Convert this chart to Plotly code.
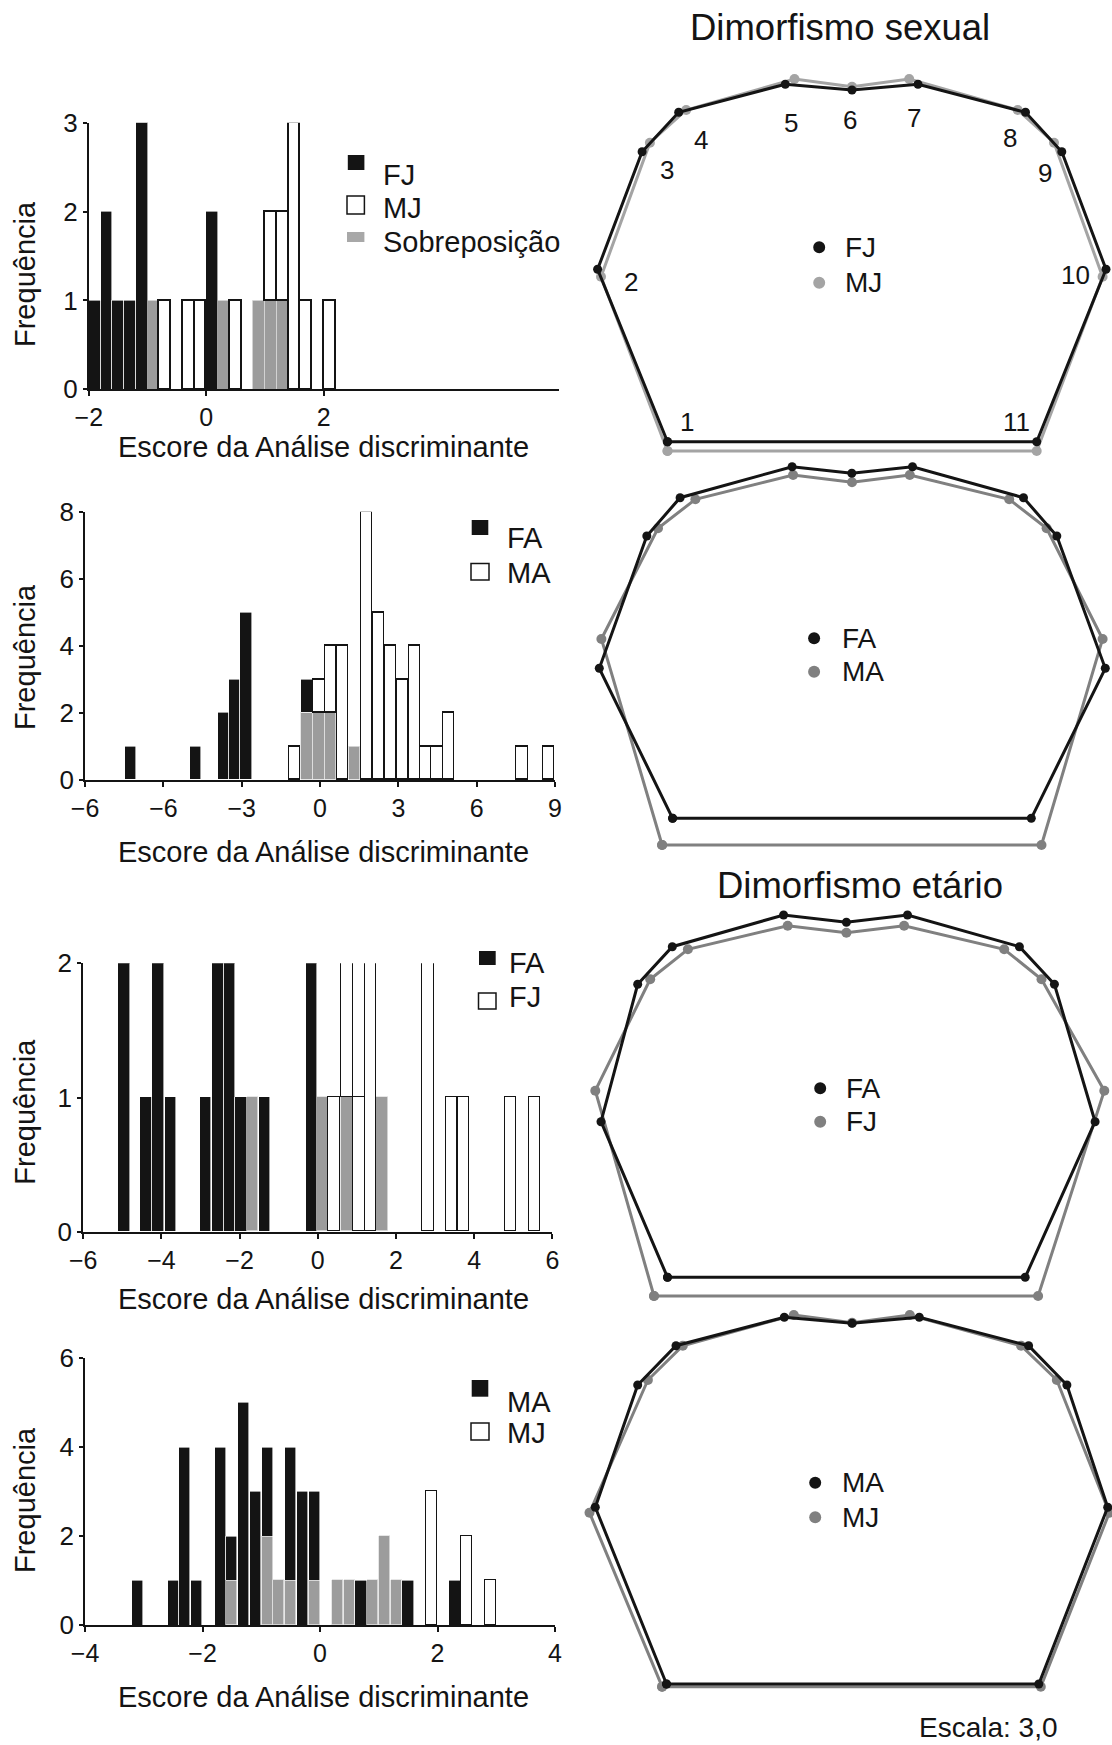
import plotly.graph_objects as go

W, H = 1112, 1745
FONT = "Liberation Sans, Arial, sans-serif"
BLACK = "#141414"
GRAY_BAR = "#9c9c9c"

# ---------------- Histogram data (discriminant scores / frequencies) ----------------
# Panel A : FJ x MJ
A_centers = [-1.9, -1.7, -1.5, -1.3, -1.1, -0.9, -0.7, -0.3, -0.1, 0.1, 0.3, 0.5, 0.9, 1.1, 1.3, 1.5, 1.7, 2.1]
A_overlap = [0, 0, 0, 0, 0, 1, 0, 0, 0, 0, 1, 0, 1, 1, 1, 0, 0, 0]
A_fj      = [1, 2, 1, 1, 3, 0, 0, 0, 0, 2, 0, 0, 0, 0, 0, 0, 0, 0]
A_mj      = [0, 0, 0, 0, 0, 0, 1, 1, 1, 0, 0, 1, 0, 1, 1, 3, 1, 1]
A_ticks = [-2, 0, 2]
A_ticktext = ["−2", "0", "2"]

# Panel B : FA x MA
B_centers = [-7.26, -4.76, -3.70, -3.27, -2.83, -0.98, -0.50, -0.03, 0.41, 0.87, 1.32, 1.79, 2.24,
             2.71, 3.16, 3.63, 4.07, 4.49, 4.93, 7.74, 8.76]
B_overlap = [0, 0, 0, 0, 0, 0, 2, 2, 2, 0, 1, 0, 0, 0, 0, 0, 0, 0, 0, 0, 0]
B_fa      = [1, 1, 2, 3, 5, 0, 1, 0, 0, 0, 0, 0, 0, 0, 0, 0, 0, 0, 0, 0, 0]
B_ma      = [0, 0, 0, 0, 0, 1, 0, 1, 2, 4, 0, 8, 5, 4, 3, 4, 1, 1, 2, 1, 1]
B_ticks = [-9, -6, -3, 0, 3, 6, 9]
B_ticktext = ["−6", "−6", "−3", "0", "3", "6", "9"]

# Panel C : FA x FJ
C_centers = [-4.95, -4.39, -4.08, -3.77, -2.87, -2.55, -2.25, -1.96, -1.67, -1.35, -0.16, 0.14,
             0.42, 0.75, 1.06, 1.36, 1.65, 2.82, 3.42, 3.73, 4.94, 5.55]
C_overlap = [0, 0, 0, 0, 0, 0, 0, 0, 1, 0, 0, 1, 0, 1, 0, 0, 1, 0, 0, 0, 0, 0]
C_fa      = [2, 1, 2, 1, 1, 2, 2, 1, 0, 1, 2, 0, 0, 0, 0, 0, 0, 0, 0, 0, 0, 0]
C_fj      = [0, 0, 0, 0, 0, 0, 0, 0, 0, 0, 0, 0, 1, 1, 1, 2, 0, 2, 1, 1, 1, 1]
C_ticks = [-6, -4, -2, 0, 2, 4, 6]
C_ticktext = ["−6", "−4", "−2", "0", "2", "4", "6"]

# Panel D : MA x MJ
D_centers = [-3.1, -2.5, -2.3, -2.1, -1.7, -1.5, -1.3, -1.1, -0.9, -0.7, -0.5, -0.3, -0.1, 0.3, 0.5,
             0.7, 0.9, 1.1, 1.3, 1.5, 1.9, 2.3, 2.5, 2.9]
D_overlap = [0, 0, 0, 0, 0, 1, 0, 0, 2, 1, 1, 0, 1, 1, 1, 0, 1, 2, 1, 0, 0, 0, 0, 0]
D_ma      = [1, 1, 4, 1, 4, 1, 5, 3, 2, 0, 3, 3, 2, 0, 0, 1, 0, 0, 0, 1, 0, 1, 0, 0]
D_mj      = [0, 0, 0, 0, 0, 0, 0, 0, 0, 0, 0, 0, 0, 0, 0, 0, 0, 0, 0, 0, 3, 0, 2, 1]
D_ticks = [-4, -2, 0, 2, 4]
D_ticktext = ["−4", "−2", "0", "2", "4"]

# ---------------- Landmark configurations (11 landmarks, local units) ----------------
FJ_sex_x = [-184.5, -254.4, -209.9, -173.3, -66.7, 0.0, 66.0, 173.5, 209.8, 254.0, 184.7]
FJ_sex_y = [0.0, 172.4, 290.0, 329.4, 357.4, 351.7, 357.4, 329.4, 290.0, 172.4, 0.0]
MJ_sex_x = [-184.5, -251.0, -202.1, -165.8, -57.5, 0.0, 57.2, 165.7, 202.0, 250.6, 184.7]
MJ_sex_y = [-9.3, 165.0, 299.0, 331.7, 362.7, 355.0, 362.7, 331.7, 299.0, 165.0, -9.3]

FA_sex_x = [-179.4, -252.7, -205.2, -171.9, -59.9, -0.2, 60.5, 171.5, 204.8, 253.3, 179.3]
FA_sex_y = [0.0, 150.0, 282.3, 320.6, 351.6, 345.0, 351.6, 320.6, 282.3, 150.0, 0.0]
MA_sex_x = [-189.9, -250.6, -194.0, -156.6, -58.9, 0.0, 57.8, 157.2, 194.6, 250.6, 189.5]
MA_sex_y = [-26.7, 179.3, 290.0, 319.0, 343.3, 336.0, 343.3, 319.0, 290.0, 179.3, -26.7]

FA_age_x = [-184.5, -251.0, -214.3, -179.7, -68.4, -5.6, 55.5, 167.4, 202.4, 243.1, 173.2]
FA_age_y = [0.0, 155.6, 293.0, 330.6, 362.3, 355.0, 362.3, 330.6, 293.0, 155.6, 0.0]
FJ_age_x = [-198.0, -256.7, -201.8, -164.1, -64.3, -5.6, 52.1, 152.2, 189.5, 252.3, 186.1]
FJ_age_y = [-18.7, 186.6, 298.0, 328.0, 351.6, 344.6, 351.6, 328.0, 298.0, 186.6, -18.7]

MA_age_x = [-185.5, -256.7, -214.3, -176.0, -67.7, 0.1, 67.3, 176.6, 214.9, 255.7, 186.8]
MA_age_y = [0.0, 176.7, 299.0, 338.3, 366.7, 360.7, 366.7, 338.3, 299.0, 176.7, 0.0]
MJ_age_x = [-189.9, -262.5, -204.1, -169.2, -58.2, 0.1, 57.8, 169.1, 204.8, 257.3, 188.8]
MJ_age_y = [-2.7, 171.3, 304.0, 338.3, 369.0, 361.3, 369.0, 338.3, 304.0, 171.3, -2.7]

landmark_labels = ["1", "2", "3", "4", "5", "6", "7", "8", "9", "10", "11"]

# ---------------- helpers ----------------
def xdom(l, r):
    return [l / W, r / W]

def ydom(top, bot):
    return [1 - bot / H, 1 - top / H]

def px(x):
    return x / W

def py(y):
    return 1 - y / H

def nz(v):
    return [None if c == 0 else c for c in v]

fig = go.Figure()
annotations = []
shapes = []

TXT = 29
TICK = 25

hist_panels = [
    dict(c=A_centers, ov=A_overlap, a=A_fj, b=A_mj, w=0.2, xr=[-2, 6], yr=[0, 3],
         xd=(88.8, 558.6), yd=(122.7, 389.3), xt=A_ticks, xtt=A_ticktext, yt=[0, 1, 2, 3],
         ytitle=274, xtitle=447,
         leg=[("black", "FJ", (347.8, 364.4, 155, 170), 175),
              ("white", "MJ", (347.0, 364.4, 196, 214), 208),
              ("gray", "Sobreposição", (347.0, 364.4, 232, 242), 241.7)], legx=381),
    dict(c=B_centers, ov=B_overlap, a=B_fa, b=B_ma, w=0.44, xr=[-9, 9], yr=[0, 8],
         xd=(85.1, 555.0), yd=(511.7, 780.0), xt=B_ticks, xtt=B_ticktext,
         yt=[0, 2, 4, 6, 8], ytitle=657, xtitle=851.7,
         leg=[("black", "FA", (471.7, 488.3, 520, 535), 538),
              ("white", "MA", (471.0, 489.0, 563.5, 580), 572.7)], legx=505),
    dict(c=C_centers, ov=C_overlap, a=C_fa, b=C_fj, w=0.29, xr=[-6, 6], yr=[0, 2],
         xd=(83.2, 552.4), yd=(963.3, 1231.7), xt=C_ticks, xtt=C_ticktext,
         yt=[0, 1, 2], ytitle=1111.7, xtitle=1298.5,
         leg=[("black", "FA", (479.0, 495.7, 951, 965), 963.3),
              ("white", "FJ", (478.5, 496.0, 993, 1009), 996.7)], legx=506.8),
    dict(c=D_centers, ov=D_overlap, a=D_ma, b=D_mj, w=0.19, xr=[-4, 4], yr=[0, 6],
         xd=(85.1, 555.0), yd=(1358.3, 1625.0), xt=D_ticks, xtt=D_ticktext,
         yt=[0, 2, 4, 6], ytitle=1500, xtitle=1696.7,
         leg=[("black", "MA", (471.7, 488.3, 1380, 1396.7), 1401.7),
              ("white", "MJ", (471.0, 489.0, 1423, 1440), 1433.3)], legx=505),
]

layout_axes = {}
for i, p in enumerate(hist_panels):
    n = i + 1
    xa = "x" if n == 1 else f"x{n}"
    ya = "y" if n == 1 else f"y{n}"
    fig.add_trace(go.Bar(x=p["c"], y=nz(p["ov"]), width=p["w"], xaxis=xa, yaxis=ya,
                         marker=dict(color=GRAY_BAR, line=dict(color="#e0e0e0", width=0.8))))
    fig.add_trace(go.Bar(x=p["c"], y=nz(p["a"]), width=p["w"], xaxis=xa, yaxis=ya,
                         marker=dict(color=BLACK, line=dict(color="white", width=0.6))))
    fig.add_trace(go.Bar(x=p["c"], y=nz(p["b"]), width=p["w"], xaxis=xa, yaxis=ya,
                         marker=dict(color="white", line=dict(color=BLACK, width=1.4))))
    xkey = "xaxis" if n == 1 else f"xaxis{n}"
    ykey = "yaxis" if n == 1 else f"yaxis{n}"
    layout_axes[xkey] = dict(domain=xdom(*p["xd"]), range=p["xr"], anchor=ya, automargin=False,
                             showline=True, linecolor=BLACK, linewidth=2, showgrid=False,
                             zeroline=False, ticks="outside", ticklen=5, tickwidth=1.5,
                             tickcolor=BLACK, tickvals=p["xt"], ticktext=p["xtt"],
                             tickfont=dict(size=TICK, color=BLACK, family=FONT), fixedrange=True)
    layout_axes[ykey] = dict(domain=ydom(*p["yd"]), range=p["yr"], anchor=xa, automargin=False,
                             showline=True, linecolor=BLACK, linewidth=2, showgrid=False,
                             zeroline=False, ticks="outside", ticklen=4, tickwidth=1.5,
                             tickcolor=BLACK, tickvals=p["yt"],
                             tickfont=dict(size=TICK + 1, color=BLACK, family=FONT), fixedrange=True)
    annotations.append(dict(x=px(25), y=py(p["ytitle"]), xref="paper", yref="paper",
                            text="Frequência", textangle=-90, showarrow=False,
                            font=dict(size=TXT, color=BLACK, family=FONT),
                            xanchor="center", yanchor="middle"))
    annotations.append(dict(x=px(323.7), y=py(p["xtitle"]), xref="paper", yref="paper",
                            text="Escore da Análise discriminante", showarrow=False,
                            font=dict(size=TXT, color=BLACK, family=FONT),
                            xanchor="center", yanchor="middle"))
    for kind, label, (x0, x1, y0, y1), ty in p["leg"]:
        if kind == "black":
            fill, lc, lw = BLACK, BLACK, 0
        elif kind == "white":
            fill, lc, lw = "white", BLACK, 1.5
        else:
            fill, lc, lw = "#a8a8a8", "#a8a8a8", 0
        shapes.append(dict(type="rect", xref="paper", yref="paper",
                           x0=px(x0), x1=px(x1), y0=py(y1), y1=py(y0),
                           fillcolor=fill, line=dict(color=lc, width=lw)))
        annotations.append(dict(x=px(p["legx"]), y=py(ty), xref="paper", yref="paper",
                                text=label, showarrow=False, xanchor="left", yanchor="middle",
                                font=dict(size=TXT, color=BLACK, family=FONT)))

# ---------------- shape (landmark) panels ----------------
shape_panels = [
    dict(bx=FJ_sex_x, by=FJ_sex_y, gx=MJ_sex_x, gy=MJ_sex_y, gcol="#a4a4a4",
         yd=(60, 470), ref=441.7, names=("FJ", "MJ"), dot=(819.2, 247.3, 282.7), tx=843),
    dict(bx=FA_sex_x, by=FA_sex_y, gx=MA_sex_x, gy=MA_sex_y, gcol="#808080",
         yd=(455, 860), ref=818.3, names=("FA", "MA"), dot=(814.1, 638.3, 671.7), tx=839.6),
    dict(bx=FA_age_x, by=FA_age_y, gx=FJ_age_x, gy=FJ_age_y, gcol="#808080",
         yd=(895, 1310), ref=1277.3, names=("FA", "FJ"), dot=(820.2, 1088.3, 1121.7), tx=844),
    dict(bx=MA_age_x, by=MA_age_y, gx=MJ_age_x, gy=MJ_age_y, gcol="#808080",
         yd=(1300, 1705), ref=1684.0, names=("MA", "MJ"), dot=(815.2, 1482.7, 1517.3), tx=839.6),
]
MID = 852.0
for j, s in enumerate(shape_panels):
    n = 5 + j
    xa, ya = f"x{n}", f"y{n}"
    top, bot = s["yd"]
    for xs, ys, col, msz in [(s["gx"], s["gy"], s["gcol"], 10), (s["bx"], s["by"], BLACK, 9)]:
        fig.add_trace(go.Scatter(x=xs + [xs[0]], y=ys + [ys[0]], xaxis=xa, yaxis=ya,
                                 mode="lines+markers", cliponaxis=False,
                                 line=dict(color=col, width=3),
                                 marker=dict(color=col, size=msz)))
    layout_axes[f"xaxis{n}"] = dict(domain=xdom(580, 1112), range=[580 - MID, 1112 - MID],
                                    anchor=ya, visible=False, fixedrange=True, automargin=False)
    layout_axes[f"yaxis{n}"] = dict(domain=ydom(top, bot), range=[s["ref"] - bot, s["ref"] - top],
                                    anchor=xa, visible=False, fixedrange=True, automargin=False)
    dx, dy1, dy2 = s["dot"]
    for yy, name, col in [(dy1, s["names"][0], BLACK), (dy2, s["names"][1], s["gcol"])]:
        shapes.append(dict(type="circle", xref="paper", yref="paper",
                           x0=px(dx - 6), x1=px(dx + 6), y0=py(yy + 6), y1=py(yy - 6),
                           fillcolor=col, line=dict(width=0)))
        annotations.append(dict(x=px(s["tx"]), y=py(yy), xref="paper", yref="paper",
                                text=name, showarrow=False, xanchor="left", yanchor="middle",
                                font=dict(size=28, color=BLACK, family=FONT)))

# landmark numbers (first panel only), positions in local units of panel 1
label_pos = [(-165.1, 20), (-221.1, 160), (-185.5, 271.7), (-151.5, 301.7), (-60.9, 318.4),
             (-2.2, 321.7), (62.2, 323.4), (158.3, 303.4), (192.9, 268.4), (223.4, 166.7),
             (164.0, 20)]
for lab, (lx, ly) in zip(landmark_labels, label_pos):
    annotations.append(dict(x=lx, y=ly, xref="x5", yref="y5", text=lab, showarrow=False,
                            xanchor="center", yanchor="middle",
                            font=dict(size=26, color=BLACK, family=FONT)))

annotations.append(dict(x=px(840), y=py(27), xref="paper", yref="paper", text="Dimorfismo sexual",
                        showarrow=False, xanchor="center", yanchor="middle",
                        font=dict(size=36.5, color=BLACK, family=FONT)))
annotations.append(dict(x=px(860), y=py(885), xref="paper", yref="paper", text="Dimorfismo etário",
                        showarrow=False, xanchor="center", yanchor="middle",
                        font=dict(size=36.5, color=BLACK, family=FONT)))
annotations.append(dict(x=px(988), y=py(1727), xref="paper", yref="paper", text="Escala: 3,0",
                        showarrow=False, xanchor="center", yanchor="middle",
                        font=dict(size=28, color=BLACK, family=FONT)))

fig.update_layout(
    width=W, height=H, margin=dict(l=0, r=0, t=0, b=0, pad=0), autosize=False,
    paper_bgcolor="white", plot_bgcolor="rgba(0,0,0,0)",
    barmode="stack", bargap=0, showlegend=False,
    font=dict(family=FONT, color=BLACK),
    annotations=annotations, shapes=shapes,
    **layout_axes,
)

fig.write_html(
    "out.html",
    config={"displayModeBar": False},
    post_script="document.body.style.margin='0px';document.body.style.overflow='hidden';",
)
